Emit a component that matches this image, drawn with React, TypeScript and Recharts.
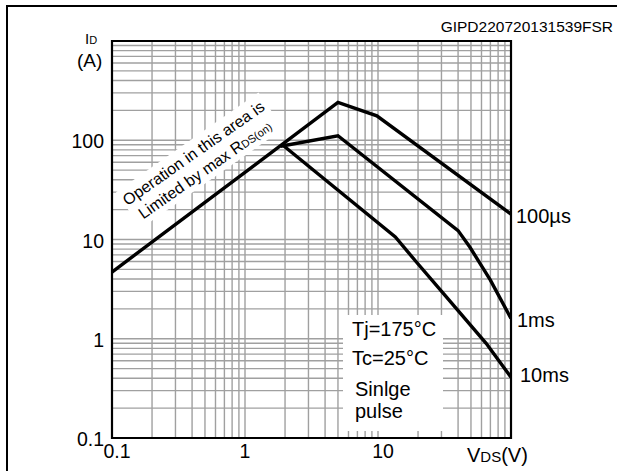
import { LineChart, Line, XAxis, YAxis, CartesianGrid, ReferenceArea } from "recharts";

const FONT = '"Liberation Sans", Arial, Helvetica, sans-serif';

// grid lines / ticks, log decades
const vdsTicks = [
  0.1, 0.2, 0.3, 0.4, 0.5, 0.6, 0.7, 0.8, 0.9,
  1, 2, 3, 4, 5, 6, 7, 8, 9,
  10, 20, 30, 40, 50, 60, 70, 80, 90, 100,
];
const vdsLabels = [0.1, 1, 10];

const idTicks = [
  0.1, 0.2, 0.3, 0.4, 0.5, 0.6, 0.7, 0.8, 0.9,
  1, 2, 3, 4, 5, 6, 7, 8, 9,
  10, 20, 30, 40, 50, 60, 70, 80, 90,
  100, 200, 300, 400, 500, 600, 700, 800, 900, 1000,
];
const idLabels = [0.1, 1, 10, 100];

// SOA curves (VDS in V, ID in A)
const vds100us = [0.1, 5, 9.8, 100];
const id100us = [4.7, 240, 176, 18];

const vds1ms = [1.85, 5, 40, 49, 70, 100];
const id1ms = [87, 111, 12.3, 8.4, 3.9, 1.6];

const vds10ms = [1.95, 13.5, 19.5, 33, 65, 100];
const id10ms = [88, 10.6, 5.9, 2.6, 0.9, 0.41];

const toPoints = (xs: number[], ys: number[]) => xs.map((x, i) => ({ x, y: ys[i] }));

const series = [
  { key: "100us", data: toPoints(vds100us, id100us) },
  { key: "1ms", data: toPoints(vds1ms, id1ms) },
  { key: "10ms", data: toPoints(vds10ms, id10ms) },
];

function VdsTick({ x, y, payload }: any) {
  const v = payload.value;
  if (!vdsLabels.includes(v)) return <g />;
  const shift = v === 1 ? 0 : 5;
  return (
    <text x={x + shift} y={y + 20} textAnchor="middle" fontSize={19.5} fontFamily={FONT} fill="#000">
      {v}
    </text>
  );
}

function IdTick({ x, y, payload }: any) {
  const v = payload.value;
  if (!idLabels.includes(v)) return <g />;
  return (
    <text x={x - 8} y={y + 8} textAnchor="end" fontSize={19.5} fontFamily={FONT} fill="#000">
      {v}
    </text>
  );
}

export default function App() {
  return (
    <div
      style={{
        position: "fixed",
        left: 0,
        top: 0,
        width: 617,
        height: 471,
        overflow: "hidden",
        background: "#fff",
        fontFamily: FONT,
      }}
    >
      <LineChart width={617} height={471} margin={{ top: 41, right: 106, bottom: 0, left: 0 }}>
        <CartesianGrid stroke="#a0a0a0" strokeWidth={1.4} />
        <XAxis
          type="number"
          dataKey="x"
          scale="log"
          domain={[0.1, 100]}
          ticks={vdsTicks}
          interval={0}
          allowDataOverflow
          axisLine={false}
          tickLine={false}
          tickSize={0}
          tickMargin={0}
          height={33}
          tick={<VdsTick />}
        />
        <YAxis
          type="number"
          dataKey="y"
          scale="log"
          domain={[0.1, 1000]}
          ticks={idTicks}
          interval={0}
          allowDataOverflow
          axisLine={false}
          tickLine={false}
          tickSize={0}
          tickMargin={0}
          width={112}
          tick={<IdTick />}
        />
        {series.map((s) => (
          <Line
            key={s.key}
            data={s.data}
            dataKey="y"
            type="linear"
            stroke="#000"
            strokeWidth={3.4}
            dot={false}
            isAnimationActive={false}
          />
        ))}
        <ReferenceArea
          x1={0.1}
          x2={100}
          y1={0.1}
          y2={1000}
          fill="none"
          fillOpacity={0}
          stroke="#000"
          strokeWidth={2.2}
          ifOverflow="visible"
        />
      </LineChart>

      {/* annotations on top of the plot */}
      <svg
        width={617}
        height={471}
        style={{ position: "absolute", left: 0, top: 0, pointerEvents: "none" }}
        fontFamily={FONT}
      >
        <path d="M7 471 V6 H617" stroke="#000" strokeWidth={2} fill="none" />
        <text x={613} y={32} textAnchor="end" fontSize={15.5} fill="#000">
          GIPD220720131539FSR
        </text>

        <text x={85} y={44} fill="#000">
          <tspan fontSize={15}>I</tspan>
          <tspan fontSize={11}>D</tspan>
        </text>
        <text x={77} y={67} fontSize={19} fill="#000">
          (A)
        </text>

        <text x={467} y={462} fill="#000">
          <tspan fontSize={20}>V</tspan>
          <tspan fontSize={15}>DS</tspan>
          <tspan fontSize={20}>(V)</tspan>
        </text>

        <text x={516} y={223} fontSize={20} fill="#000">100µs</text>
        <text x={517} y={327} fontSize={20} fill="#000">1ms</text>
        <text x={520} y={382} fontSize={20} fill="#000">10ms</text>

        <rect x={343} y={315} width={100} height={116} fill="#fff" />
        <text x={352} y={336} fontSize={20} fill="#000">Tj=175°C</text>
        <text x={352} y={365} fontSize={20} fill="#000">Tc=25°C</text>
        <text x={355} y={396} fontSize={20} fill="#000">Sinlge</text>
        <text x={355} y={418} fontSize={20} fill="#000">pulse</text>

        <g transform="translate(199,161) rotate(-35)">
          <rect x={-86} y={-22} width={174} height={44} fill="#fff" />
          <text x={0} y={-4} textAnchor="middle" fontSize={16} fill="#000">
            Operation in this area is
          </text>
          <text x={0} y={16} textAnchor="middle" fill="#000">
            <tspan fontSize={16}>Limited by max R</tspan>
            <tspan fontSize={11}>DS(on)</tspan>
          </text>
        </g>
      </svg>
    </div>
  );
}
